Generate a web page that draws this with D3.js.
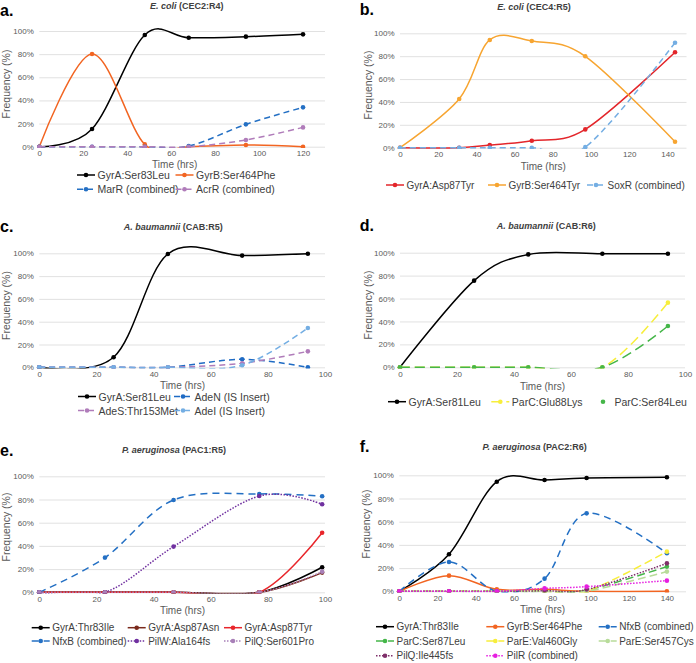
<!DOCTYPE html>
<html><head><meta charset="utf-8">
<script src="https://cdn.jsdelivr.net/npm/d3@7"></script>
<style>body{margin:0;background:#fff} svg{display:block}</style>
</head><body><svg id="c" width="696" height="663"></svg>
<script>
// ---------- data ----------
const yTicks = [0, 20, 40, 60, 80, 100];
const yTickLabels = ["0%", "20%", "40%", "60%", "80%", "100%"];

// a. E. coli (CEC2:R4)
const aTime = [0, 24, 48, 68, 94, 120];
const aXTicks = [0, 20, 40, 60, 80, 100, 120];
const aNames = ["GyrA:Ser83Leu", "GyrB:Ser464Phe", "MarR (combined)", "AcrR (combined)"];
const aGyrA = [0, 15.3, 96.5, 94.2, 95.1, 97.1];
const aGyrB = [0, 80.1, 2, 0, 1.5, 0];
const aMarR = [0, 0, 0, 0.5, 19.3, 34];
const aAcrR = [0, 0, 0, 0, 5.8, 16.7];

// b. E. coli (CEC4:R5)
const bTime = [0, 31, 47, 69, 97, 144];
const bXTicks = [0, 20, 40, 60, 80, 100, 120, 140];
const bNames = ["GyrA:Asp87Tyr", "GyrB:Ser464Tyr", "SoxR (combined)"];
const bGyrA = [0, 0, 2.3, 6.1, 16, 83.4];
const bGyrB = [0, 42.6, 94.2, 93.3, 79.9, 5.2];
const bSoxR = [0, 0, 0, 0, 0.5, 91.8];

// c. A. baumannii (CAB:R5)
const cTime = [0, 26, 45, 71, 94];
const cXTicks = [0, 20, 40, 60, 80, 100];
const cNames = ["GyrA:Ser81Leu", "AdeN (IS Insert)", "AdeS:Thr153Met", "AdeI (IS Insert)"];
const cGyrA = [0, 8.8, 99.4, 98, 99.6];
const cAdeN = [0, 0, 0, 7, 0];
const cAdeS = [0, 0, 0, 3.5, 14];
const cAdeI = [0, 0, 0, 1.8, 34.5];

// d. A. baumannii (CAB:R6)
const dTime = [0, 26, 45, 71, 94];
const dXTicks = [0, 20, 40, 60, 80, 100];
const dNames = ["GyrA:Ser81Leu", "ParC:Glu88Lys", "ParC:Ser84Leu"];
const dGyrA = [0, 75.6, 98.5, 99.1, 99.1];
const dParCGlu = [0, 0, 0, 0, 56.4];
const dParCSer = [0, 0, 0, 0, 36];

// e. P. aeruginosa (PAC1:R5)
const eTime = [0, 23, 47, 77, 99];
const eXTicks = [0, 20, 40, 60, 80, 100];
const eNames = ["GyrA:Thr83Ile", "GyrA:Asp87Asn", "GyrA:Asp87Tyr", "NfxB (combined)", "PilW:Ala164fs", "PilQ:Ser601Pro"];
const eGyrAThr = [0, 0, 0, 0, 21.6];
const eGyrAAsn = [0, 0, 0, 0, 17];
const eGyrATyr = [0, 0, 0, 0, 51.4];
const eNfxB = [0, 29.9, 79.6, 84.8, 82.8];
const ePilW = [0, 0, 39.4, 83, 75.9];
const ePilQ = [0, 0, 0, 0, 17.8];

// f. P. aeruginosa (PAC2:R6)
const fTime = [0, 26, 51, 76, 98, 140];
const fXTicks = [0, 20, 40, 60, 80, 100, 120, 140];
const fNames = ["GyrA:Thr83Ile", "GyrB:Ser464Phe", "NfxB (combined)", "ParC:Ser87Leu", "ParE:Val460Gly", "ParE:Ser457Cys", "PilQ:Ile445fs", "PilR (combined)"];
const fGyrA = [0, 31.9, 94.5, 96, 97.7, 98.3];
const fGyrB = [0, 13.5, 1.7, 1.7, 0, 0];
const fNfxB = [0, 25.3, 0, 10.9, 67.2, 32.8];
const fParC = [0, 0, 0, 0, 1, 21.3];
const fParEVal = [0, 0, 0, 0, 0, 34.2];
const fParESer = [0, 0, 0, 0, 0, 17];
const fPilQ = [0, 0, 0, 0.5, 1.5, 24.1];
const fPilR = [0, 0, 0, 2.5, 4, 9.2];

// ---------- styles ----------
const aColors = ["#000000", "#F26522", "#2470C4", "#B07CBA"];
const aDash = [null, null, "6,4", "6,4"];
const bColors = ["#E3262B", "#F7A531", "#74AEE3"];
const bDash = [null, null, "6,4"];
const cColors = ["#000000", "#1F6BC4", "#B07CBA", "#74AEE3"];
const cDash = [null, "6,4", "6,4", "6,4"];
const dColors = ["#000000", "#F7EE3C", "#45B649"];
const dDash = [null, "10,5", "10,5"];
const eColors = ["#000000", "#7A2A1C", "#E8262B", "#2470C4", "#7030A0", "#A880B8"];
const eDash = [null, null, null, "7,5", "1.5,1.5", "1.5,1.5"];
const fColors = ["#000000", "#F26522", "#2470C4", "#45B649", "#F7EE3C", "#B8DC9A", "#7F2F6A", "#E61EE0"];
const fDash = [null, null, "7,5", "8,4", "8,4", "8,4", "1.5,1.5", "1.5,1.5"];

const FONT = "'Liberation Sans', Arial, Helvetica, sans-serif";
const svg = d3.select("#c");

const panels = [
  { letter: "a.", lx: 0, ly: 15.5, it: "E. coli", rest: " (CEC2:R4)", tx: 186.7, ty: 9,
    time: aTime, xTicks: aXTicks, xMax: 130, x0: 39.3, x1: 325, y0: 146.7, y1: 31,
    series: [aGyrA, aGyrB, aMarR, aAcrR], names: aNames, colors: aColors, dash: aDash,
    ftx: 5.8, fty: 84, ttx: 174.7, tty: 164.3, legFont: 10.5,
    leg: [[77, 175], [175.5, 175], [77, 189.3], [175.5, 189.3]] },
  { letter: "b.", lx: 359.7, ly: 15, it: "E. coli", rest: " (CEC4:R5)", tx: 534, ty: 9.7,
    time: bTime, xTicks: bXTicks, xMax: 150, x0: 400, x1: 686.5, y0: 147.7, y1: 33.3,
    series: [bGyrA, bGyrB, bSoxR], names: bNames, colors: bColors, dash: bDash,
    ftx: 368, fty: 85, ttx: 543.3, tty: 166, legFont: 10,
    leg: [[386, 185], [488, 185], [587, 185]] },
  { letter: "c.", lx: 0, ly: 232, it: "A. baumannii", rest: " (CAB:R5)", tx: 173.3, ty: 229.7,
    time: cTime, xTicks: cXTicks, xMax: 100, x0: 39.3, x1: 325, y0: 367.3, y1: 253.3,
    series: [cGyrA, cAdeN, cAdeS, cAdeI], names: cNames, colors: cColors, dash: cDash,
    ftx: 5.8, fty: 305.5, ttx: 182.5, tty: 385.5, legFont: 10.5,
    leg: [[78, 396.5], [174, 396.5], [78, 410.5], [174, 410.5]] },
  { letter: "d.", lx: 359.7, ly: 230.5, it: "A. baumannii", rest: " (CAB:R6)", tx: 546.3, ty: 228.7,
    time: dTime, xTicks: dXTicks, xMax: 100, x0: 400, x1: 685, y0: 367.3, y1: 252.7,
    series: [dGyrA, dParCGlu, dParCSer], names: dNames, colors: dColors, dash: dDash,
    ftx: 368, fty: 305, ttx: 542.5, tty: 386, legFont: 10.5, noLegLine: [2],
    leg: [[388, 401.7], [491.3, 401.7], [594, 401.7]] },
  { letter: "e.", lx: 0, ly: 455.5, it: "P. aeruginosa", rest: " (PAC1:R5)", tx: 174, ty: 453,
    time: eTime, xTicks: eXTicks, xMax: 100, x0: 39.3, x1: 325, y0: 592.3, y1: 476.3,
    series: [eGyrAThr, eGyrAAsn, eGyrATyr, eNfxB, ePilW, ePilQ], names: eNames, colors: eColors, dash: eDash,
    ftx: 5.8, fty: 527, ttx: 182.5, tty: 610, legFont: 10,
    leg: [[31.7, 627.7], [127.7, 627.7], [224, 627.7], [31.7, 641], [127.7, 641], [224, 641]] },
  { letter: "f.", lx: 359.7, ly: 452, it: "P. aeruginosa", rest: " (PAC2:R6)", tx: 534.7, ty: 449.7,
    time: fTime, xTicks: fXTicks, xMax: 150, x0: 399.3, x1: 686, y0: 591.3, y1: 475.3,
    series: [fGyrA, fGyrB, fNfxB, fParC, fParEVal, fParESer, fPilQ, fPilR], names: fNames, colors: fColors, dash: fDash,
    ftx: 366.3, fty: 524, ttx: 542.5, tty: 609, legFont: 10,
    leg: [[376, 626.7], [486.3, 626.7], [598.7, 626.7], [376, 641], [486.3, 641], [598.7, 641], [376, 655.7], [486.3, 655.7]] }
];

panels.forEach((p, pi) => {
  const x = d3.scaleLinear().domain([0, p.xMax]).range([p.x0, p.x1]);
  const y = d3.scaleLinear().domain([0, 100]).range([p.y0, p.y1]);
  const g = svg.append("g");

  g.append("text").attr("x", p.lx).attr("y", p.ly).text(p.letter)
    .attr("font-family", FONT).attr("font-weight", "bold").attr("font-size", 16).attr("fill", "#000");

  const t = g.append("text").attr("x", p.tx).attr("y", p.ty).attr("text-anchor", "middle")
    .attr("font-family", FONT).attr("font-weight", "bold").attr("font-size", 9).attr("fill", "#404040");
  t.append("tspan").attr("font-style", "italic").text(p.it);
  t.append("tspan").text(p.rest);

  const yAxis = d3.axisLeft(y).tickValues(yTicks).tickFormat((d, i) => yTickLabels[i])
    .tickSizeInner(-(p.x1 - p.x0)).tickSizeOuter(0).tickPadding(5.5);
  g.append("g").attr("transform", `translate(${p.x0},0)`).call(yAxis).call(s => {
    s.select(".domain").remove();
    s.selectAll("line").attr("stroke", "#d9d9d9").attr("stroke-width", 0.8);
    s.selectAll("text").attr("fill", "#595959").attr("font-size", 8).attr("font-family", FONT);
  });

  const xAxis = d3.axisBottom(x).tickValues(p.xTicks).tickFormat(d3.format("d")).tickSize(0).tickPadding(4);
  g.append("g").attr("transform", `translate(0,${p.y0})`).call(xAxis).call(s => {
    s.select(".domain").remove();
    s.selectAll("text").attr("fill", "#595959").attr("font-size", 8).attr("font-family", FONT);
  });

  g.append("text").attr("transform", `translate(${p.ftx},${p.fty}) rotate(-90)`)
    .attr("text-anchor", "middle").attr("dominant-baseline", "central")
    .attr("font-family", FONT).attr("font-size", 10.5).attr("fill", "#595959").text("Frequency (%)");
  g.append("text").attr("x", p.ttx).attr("y", p.tty).attr("text-anchor", "middle").attr("dominant-baseline", "central")
    .attr("font-family", FONT).attr("font-size", 10).attr("fill", "#595959").text("Time (hrs)");

  const cid = "clip" + pi;
  svg.append("clipPath").attr("id", cid).append("rect")
    .attr("x", p.x0 - 4).attr("y", p.y1 - 20).attr("width", p.x1 - p.x0 + 8).attr("height", p.y0 - p.y1 + 21.2);

  const plot = g.append("g").attr("clip-path", `url(#${cid})`);
  const line = d3.line().x((d, i) => x(p.time[i])).y(d => y(d)).curve(d3.curveCardinal.tension(0));

  p.series.forEach((vals, si) => {
    const sg = plot.append("g");
    sg.append("path").attr("d", line(vals)).attr("fill", "none")
      .attr("stroke", p.colors[si]).attr("stroke-width", 1.5)
      .attr("stroke-dasharray", p.dash[si]);
    sg.selectAll("circle").data(vals).enter().append("circle")
      .attr("cx", (d, i) => x(p.time[i])).attr("cy", d => y(d)).attr("r", 2.3)
      .attr("fill", p.colors[si]);
  });

  p.names.forEach((nm, si) => {
    const [lx, ly] = p.leg[si];
    const lg = g.append("g");
    if (!(p.noLegLine && p.noLegLine.includes(si))) {
      lg.append("line").attr("x1", lx).attr("x2", lx + 18).attr("y1", ly).attr("y2", ly)
        .attr("stroke", p.colors[si]).attr("stroke-width", 1.5).attr("stroke-dasharray", p.dash[si]);
    }
    lg.append("circle").attr("cx", lx + 9).attr("cy", ly).attr("r", 2.3).attr("fill", p.colors[si]);
    lg.append("text").attr("x", lx + 20.5).attr("y", ly).attr("dominant-baseline", "central")
      .attr("font-family", FONT).attr("font-size", p.legFont).attr("fill", "#404040").text(nm);
  });
});
</script>
</body></html>
